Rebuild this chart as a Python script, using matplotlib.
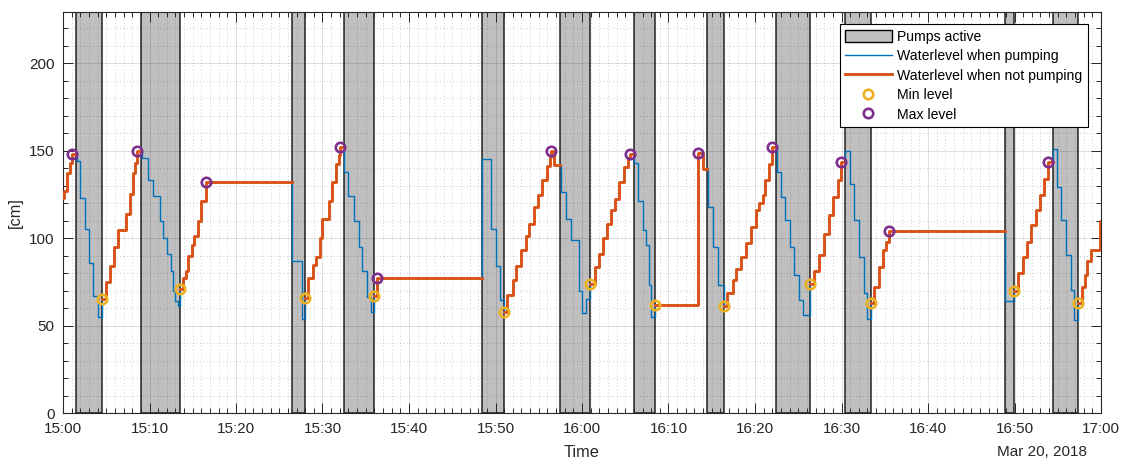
import numpy as np
import matplotlib
matplotlib.use("Agg")
import matplotlib.pyplot as plt
import matplotlib.dates as mdates
from matplotlib.patches import Patch
from matplotlib.lines import Line2D

plt.rcParams['font.family'] = ['Liberation Sans', 'DejaVu Sans']

start = np.datetime64('2018-03-20T15:00')

# water level change points (minutes after 15:00, cm)
level_min = [
    0.0, 0.1, 0.5, 0.85, 1.0,
    1.6, 2.0, 2.5, 3.0, 3.5, 4.0, 4.5,
    4.95, 5.4, 5.9, 6.35, 7.3, 7.7, 8.1, 8.35, 8.5,
    9.1, 9.85, 10.4, 11.2, 11.6, 12.0, 12.5, 12.7, 12.95, 13.3, 13.5,
    13.9, 14.2, 14.5, 14.9, 15.2, 15.6, 16.0, 16.5,
    26.45, 27.6, 27.95,
    28.3, 28.9, 29.3, 29.7, 30.0, 30.8, 31.1, 31.6, 31.9, 32.05,
    32.5, 33.0, 33.6, 34.2, 34.6, 35.1, 35.65, 35.95,
    36.35,
    48.4, 49.45, 50.0, 50.5, 50.95,
    51.3, 52.0, 52.4, 52.9, 53.5, 53.9, 54.4, 54.9, 55.4, 55.9, 56.25, 56.45, 56.8,
    57.6, 58.2, 58.7, 59.7, 60.0, 60.5, 60.95,
    61.45, 62.0, 62.4, 62.9, 63.4, 63.8, 64.3, 64.8, 65.3, 65.5,
    66.05, 66.45, 67.0, 67.4, 67.7, 68.0, 68.45,
    73.45, 73.95,
    74.55, 75.1, 75.7, 76.4,
    76.8, 77.4, 77.8, 78.4, 79.0, 79.5, 80.1, 80.5, 80.9, 81.2, 81.6, 81.95,
    82.5, 83.0, 83.5, 84.0, 84.55, 85.05, 85.5, 86.4,
    86.85, 87.4, 88.0, 88.6, 89.05, 89.55, 89.9,
    90.45, 91.0, 91.5, 92.05, 92.6, 92.9, 93.45,
    93.8, 94.3, 94.75, 95.1, 95.45,
    108.9, 109.95,
    110.35, 111.0, 111.5, 111.95, 112.45, 112.95, 113.4, 113.9,
    114.4, 114.9, 115.4, 116.0, 116.5, 116.9, 117.35,
    117.75, 118.1, 118.4, 118.85, 119.85,
]
level_cm = [
    123, 127, 137, 143, 148,
    144, 123, 105, 86, 67, 55, 65.5,
    75, 84, 95, 104.5, 114, 125.5, 137, 143, 150,
    146, 133, 124, 110, 100, 91, 81, 70, 64, 61, 71,
    77, 81, 90, 96, 101, 110, 121, 132,
    87, 54, 66,
    77, 84.5, 89, 100, 111, 121, 132, 142.5, 147.5, 152,
    138, 124, 110, 95, 81, 66.5, 58, 67,
    77,
    145.5, 105, 84, 64.5, 58,
    67.5, 76, 84, 93, 101.5, 108, 118, 124.5, 133, 141.5, 146.5, 150, 142,
    126.5, 111, 99, 70, 57, 65.5, 74,
    83.5, 91, 100, 108, 116, 122.5, 132, 140.5, 146, 148,
    143, 121, 104.5, 96, 73, 55, 62,
    148.5, 139.5,
    118, 95, 73, 61,
    68.5, 76, 82.5, 89.5, 97, 106.5, 116, 120, 124.5, 133, 142.5, 152,
    138, 123.5, 110.5, 95, 79, 64.5, 56, 74,
    81.5, 90.5, 102.5, 113, 123.5, 133, 143.5,
    150, 131, 110.5, 89.5, 68.5, 54, 63,
    72, 83.5, 93, 98, 104,
    64, 70,
    80, 89.5, 98, 107.5, 116, 124.5, 134, 143.5,
    151, 129.5, 110.5, 90.5, 70.5, 53, 63,
    72, 79, 87, 93, 110,
]

# pump periods (minutes after 15:00)
pump_on = [1.5, 9.0, 26.45, 32.5, 48.4, 57.5, 66.0, 74.45, 82.45, 90.45, 108.9, 114.4]
pump_off = [4.5, 13.5, 27.95, 35.95, 50.95, 60.95, 68.45, 76.4, 86.4, 93.45, 109.95, 117.35]

# min / max levels
min_min = pump_off
min_cm = [65.5, 71, 66, 67, 58, 74, 62, 61, 74, 63, 70, 63]
max_min = [1.0, 8.5, 16.5, 32.05, 36.35, 56.45, 65.5, 73.45, 81.95, 89.9, 95.45, 113.9]
max_cm = [148, 150, 132, 152, 77, 150, 148, 148.5, 152, 143.5, 104, 143.5]

end_min = 120

t = np.array(level_min)
v = np.array(level_cm, dtype=float)


def to_time(m):
    return start + np.round(np.asarray(m, dtype=float) * 60).astype('timedelta64[s]')


def value_before(x):
    return v[max(np.searchsorted(t, x, 'left') - 1, 0)]


def value_at(x):
    return v[np.searchsorted(t, x, 'right') - 1]


def segment(a, b, pumping):
    # pumping parts take the jump at their start and end, the rest don't
    if pumping:
        inner = (t >= a) & (t < b)
        y0, y1 = value_before(a), value_at(b)
    else:
        inner = (t > a) & (t < b)
        y0, y1 = value_at(a), value_before(b)
    xs = np.concatenate([[a], t[inner], [b]])
    ys = np.concatenate([[y0], v[inner], [y1]])
    return to_time(xs), ys


blue = '#0072BD'
orange = '#D95319'
yellow = '#EDB120'
purple = '#7E2F8E'

fig = plt.figure(figsize=(11.22, 4.61), dpi=100)
ax = fig.add_axes([63 / 1122, 1 - 413.3 / 461, 1038 / 1122, 401 / 461])

for a, b in zip(pump_on, pump_off):
    ax.axvspan(to_time(a), to_time(b), facecolor=(0, 0, 0, 0.25),
               edgecolor=(0, 0, 0, 0.85), linewidth=1.1, zorder=1)

for a, b in zip(pump_on, pump_off):
    xs, ys = segment(a, b, True)
    ax.plot(xs, ys, drawstyle='steps-post', color=blue, lw=1.0, zorder=3)

starts = [0] + pump_off
ends = pump_on + [end_min]
for a, b in zip(starts, ends):
    xs, ys = segment(a, b, False)
    ax.plot(xs, ys, drawstyle='steps-post', color=orange, lw=2.1, zorder=3)

ax.plot(to_time(min_min), min_cm, ls='none', marker='o', mfc='none',
        mec=yellow, mew=1.9, ms=6.8, zorder=4)
ax.plot(to_time(max_min), max_cm, ls='none', marker='o', mfc='none',
        mec=purple, mew=1.9, ms=6.8, zorder=4)

ax.set_xlim(to_time(0), to_time(end_min))
ax.set_ylim(0, 229)
ax.set_yticks([0, 50, 100, 150, 200])
ax.yaxis.set_minor_locator(plt.MultipleLocator(10))
ax.xaxis.set_major_locator(mdates.MinuteLocator(byminute=range(0, 60, 10)))
ax.xaxis.set_minor_locator(mdates.MinuteLocator())
ax.xaxis.set_major_formatter(mdates.DateFormatter('%H:%M'))

ax.grid(which='major', color='#262626', alpha=0.15, lw=0.7)
ax.grid(which='minor', color='#262626', alpha=0.3, lw=0.6, ls=(0, (1, 3)))

ax.tick_params(which='both', direction='in', top=True, right=True,
               labelsize=11, color='#262626', labelcolor='#262626', width=0.7)
ax.tick_params(which='major', length=7, pad=6)
ax.tick_params(which='minor', length=3.5)
for s in ax.spines.values():
    s.set_color('#262626')
    s.set_linewidth(0.8)

ax.set_xlabel('Time', fontsize=11.7, color='#262626')
ax.xaxis.set_label_coords(0.5, -0.079)
ax.set_ylabel('[cm]', fontsize=11.7, color='#262626')
ax.yaxis.set_label_coords(-0.0385, 0.5)
fig.text(1087 / 1122, 1 - 452 / 461, 'Mar 20, 2018', ha='right', va='center',
         fontsize=11, color='#262626')

handles = [
    Patch(facecolor='#BFBFBF', edgecolor='k', lw=1.0, label='Pumps active'),
    Line2D([], [], color=blue, lw=1.0, label='Waterlevel when pumping'),
    Line2D([], [], color=orange, lw=2.1, label='Waterlevel when not pumping'),
    Line2D([], [], ls='none', marker='o', mfc='none', mec=yellow, mew=1.9,
           ms=6.8, label='Min level'),
    Line2D([], [], ls='none', marker='o', mfc='none', mec=purple, mew=1.9,
           ms=6.8, label='Max level'),
]
leg = ax.legend(handles=handles, loc='upper right', bbox_to_anchor=(0.987, 0.970),
                borderaxespad=0, fancybox=False, framealpha=1, edgecolor='k',
                fontsize=10.1, handlelength=3.3, handleheight=1.0, handletextpad=0.36,
                labelspacing=0.38, borderpad=0.4)
leg.get_frame().set_linewidth(0.8)
leg.set_zorder(5)

fig.savefig('out.png', dpi=100)
